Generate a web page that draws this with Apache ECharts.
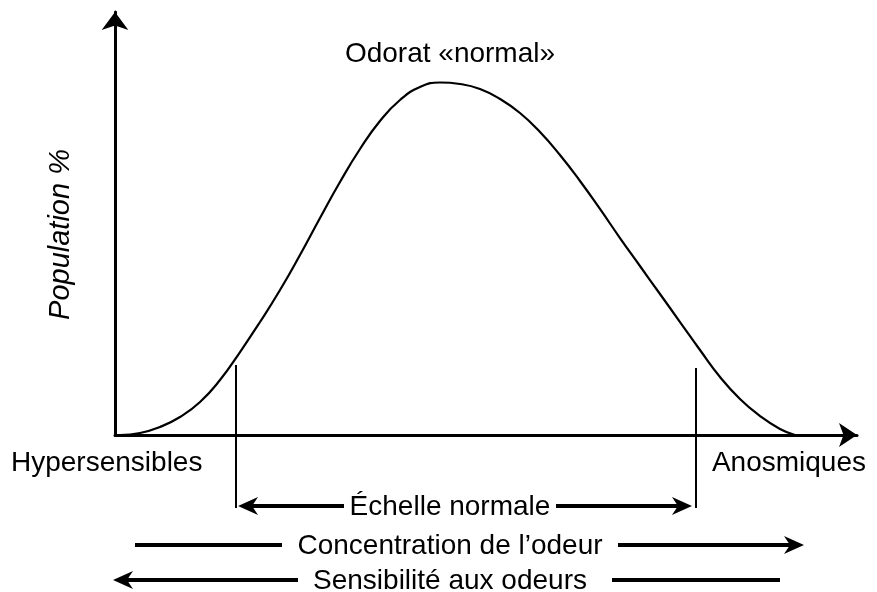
<!DOCTYPE html>
<html>
<head>
<meta charset="utf-8">
<script src="https://cdn.jsdelivr.net/npm/echarts@6/dist/echarts.min.js"></script>
<style>
html,body{margin:0;padding:0;background:#fff;}
#c{width:877px;height:592px;}
</style>
</head>
<body>
<div id="c"></div>
<script>
// Data (x: relative odour threshold scale 0-100, y: population % 0-100)
const curveX = [0.67, 3.37, 6.06, 8.76, 11.46, 14.15, 16.85, 19.54, 22.24, 24.93, 27.63, 30.32, 33.02, 35.71, 38.41, 41.11, 43.80, 46.50, 49.19, 51.89, 54.58, 57.28, 59.97, 62.67, 65.36, 68.06, 70.75, 73.45, 76.15, 78.84, 81.54, 84.23, 86.93, 89.62, 91.64];
const curveY = [0.0, 0.47, 1.89, 4.26, 7.80, 13.00, 19.62, 26.71, 34.28, 42.55, 51.30, 59.81, 67.61, 74.23, 79.20, 82.27, 83.33, 82.98, 81.80, 79.43, 76.12, 71.63, 66.19, 60.05, 53.43, 46.57, 39.95, 33.33, 26.71, 20.09, 13.71, 8.51, 4.49, 1.42, 0.0];
const normalRange = [16.31, 78.30];
const xAxisEnds = ['Hypersensibles', 'Anosmiques'];
const peakLabel = 'Odorat «normal»';
const yAxisTitle = 'Population %';
const rowLabels = ['Échelle normale', 'Concentration de l’odeur', 'Sensibilité aux odeurs'];

const chart = echarts.init(document.getElementById('c'), null, {renderer: 'canvas'});
const FONT = 'Liberation Sans, Arial, Helvetica, sans-serif';

chart.setOption({
  animation: false,
  backgroundColor: '#ffffff',
  grid: {left: 115, right: 20, top: 12, bottom: 157},
  xAxis: {
    type: 'value', min: 0, max: 100,
    axisLine: {show: true, symbol: ['none', 'arrow'], symbolSize: [18, 18], lineStyle: {color: '#000', width: 3}},
    axisTick: {show: false}, axisLabel: {show: false}, splitLine: {show: false}
  },
  yAxis: {
    type: 'value', min: 0, max: 100,
    name: yAxisTitle, nameLocation: 'middle', nameRotate: 90, nameGap: 40,
    nameTextStyle: {fontFamily: FONT, fontSize: 29, fontStyle: 'italic', color: '#000', padding: [0, 0, 0, -22]},
    axisLine: {show: true, symbol: ['none', 'arrow'], symbolSize: [20, 18], lineStyle: {color: '#000', width: 3}},
    axisTick: {show: false}, axisLabel: {show: false}, splitLine: {show: false}
  },
  series: [{
    type: 'line', smooth: 0.5, showSymbol: false,
    data: curveX.map((x, i) => [x, curveY[i]]),
    lineStyle: {color: '#000', width: 2.2}
  }]
});

function px(x, y) { return chart.convertToPixel({gridIndex: 0}, [x, y]); }

const axisY = px(0, 0)[1];
const leftX = px(normalRange[0], 0)[0];
const rightX = px(normalRange[1], 0)[0];
const peakIdx = curveY.indexOf(Math.max(...curveY));
const peakPt = px(curveX[peakIdx], curveY[peakIdx]);
const leftTop = axisY - 70;
const rightTop = axisY - 67;
const midX = 450;

const els = [];
const txt = (text, x, y, align, size) => ({
  type: 'text', x: x, y: y,
  style: {text: text, fill: '#000', font: size + 'px ' + FONT, textAlign: align, textVerticalAlign: 'middle'}
});
const seg = (x1, y1, x2, y2, w) => ({type: 'line', shape: {x1, y1, x2, y2}, style: {stroke: '#000', lineWidth: w}});
const head = (tipX, y, dir) => ({
  type: 'polygon',
  shape: {points: [[tipX, y], [tipX - dir * 20, y - 9], [tipX - dir * 14, y], [tipX - dir * 20, y + 9]]},
  style: {fill: '#000'}
});

// peak label & axis ends
els.push(txt(peakLabel, midX, peakPt[1] - 28, 'center', 28));
els.push(txt(xAxisEnds[0], 11, axisY + 28, 'left', 28));
els.push(txt(xAxisEnds[1], 866, axisY + 28, 'right', 28));

// vertical markers
const rowY1 = axisY + 71, rowY2 = axisY + 110, rowY3 = axisY + 145;
els.push(seg(leftX, leftTop, leftX, rowY1 + 2, 2));
els.push(seg(rightX, rightTop, rightX, rowY1 + 2, 2));

// Row 1: Échelle normale
els.push(seg(leftX + 8, rowY1, 344, rowY1, 4));
els.push(seg(556, rowY1, rightX - 10, rowY1, 4));
els.push(head(leftX + 2, rowY1, -1));
els.push(head(rightX - 4, rowY1, 1));
els.push(txt(rowLabels[0], midX, rowY1 + 1, 'center', 28));

// Row 2: Concentration de l'odeur
els.push(seg(135, rowY2, 282, rowY2, 4));
els.push(seg(618, rowY2, 792, rowY2, 4));
els.push(head(804, rowY2, 1));
els.push(txt(rowLabels[1], midX, rowY2 + 1, 'center', 28));

// Row 3: Sensibilité aux odeurs
els.push(seg(125, rowY3, 298, rowY3, 4));
els.push(seg(612, rowY3, 780, rowY3, 4));
els.push(head(113, rowY3, -1));
els.push(txt(rowLabels[2], midX, rowY3 + 1, 'center', 28));

chart.setOption({graphic: {elements: els}});
</script>
</body>
</html>
